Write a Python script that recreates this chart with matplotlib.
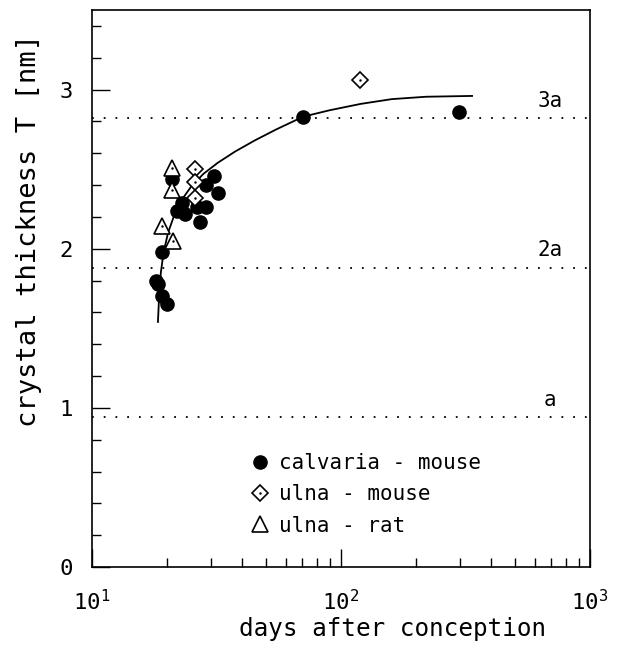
import matplotlib
matplotlib.use("Agg")
import matplotlib.pyplot as plt
from matplotlib.lines import Line2D
from matplotlib.ticker import FixedLocator, FixedFormatter, LogLocator, NullFormatter, MultipleLocator

plt.rcParams['font.family'] = ['DejaVu Sans Mono', 'DejaVu Sans']
plt.rcParams['mathtext.fontset'] = 'custom'
plt.rcParams['mathtext.rm'] = 'DejaVu Sans Mono'

# calvaria - mouse (filled circles)
calv_x = [18.07, 18.35, 19.05, 20.0, 19.05, 21.0, 22.9, 21.9, 23.6, 26.3, 28.8, 27.2, 28.6, 31.0, 32.1, 70.6, 298.0]
calv_y = [1.80, 1.78, 1.70, 1.65, 1.98, 2.44, 2.29, 2.24, 2.22, 2.26, 2.26, 2.17, 2.40, 2.46, 2.35, 2.83, 2.86]
# ulna - mouse (open diamonds)
ulm_x = [25.9, 25.9, 25.9, 119.0]
ulm_y = [2.50, 2.42, 2.32, 3.06]
# ulna - rat (open triangles)
ulr_x = [21.0, 21.0, 19.05, 21.2]
ulr_y = [2.51, 2.37, 2.14, 2.05]
# fitted curve
fit_x = [18.4, 18.6, 18.9, 19.4, 20.2, 21.5, 23.0, 25.0, 28.0, 32.0, 37.5, 45.0, 55.0, 70.6, 90.0, 120.0, 160.0, 220.0, 336.0]
fit_y = [1.54, 1.70, 1.85, 1.98, 2.10, 2.22, 2.31, 2.39, 2.47, 2.54, 2.61, 2.68, 2.75, 2.83, 2.87, 2.91, 2.94, 2.955, 2.96]
# lattice multiples
a_levels = [0.94, 1.88, 2.82]
a_labels = ['a', '2a', '3a']

fig = plt.figure(figsize=(6.36, 6.51), dpi=100)
ax = fig.add_axes([92/636, 1-567/651, (590-92)/636, (567-10)/651])

ax.set_xscale('log')
ax.set_xlim(10, 1000)
ax.set_ylim(0, 3.5)

for lv in a_levels:
    ax.axhline(lv, color='black', lw=1.3, linestyle=(0, (1, 5.5)), zorder=1)
for lv, lb in zip(a_levels, a_labels):
    ax.text(690, lv + 0.11, lb, ha='center', va='center', fontsize=15)

ax.plot(fit_x, fit_y, color='black', lw=1.3, zorder=2)
ax.plot(calv_x, calv_y, 'o', color='black', ms=9.5, zorder=3)
ax.plot(ulm_x, ulm_y, 'D', mfc='white', mec='black', mew=1.2, ms=8, zorder=4)
ax.plot(ulm_x, ulm_y, '.', color='black', ms=1.5, zorder=5)
ax.plot(ulr_x, ulr_y, '^', mfc='white', mec='black', mew=1.2, ms=11, zorder=4)
ax.plot(ulr_x, ulr_y, '.', color='black', ms=1.5, zorder=5)

h1 = Line2D([], [], marker='o', color='black', ls='', ms=9.5)
h2 = (Line2D([], [], marker='D', mfc='white', mec='black', mew=1.2, ls='', ms=8),
      Line2D([], [], marker='.', color='black', ls='', ms=1.5))
h3 = Line2D([], [], marker='^', mfc='white', mec='black', mew=1.2, ls='', ms=11)
ax.legend([h1, h2, h3], ['calvaria - mouse', 'ulna - mouse', 'ulna - rat'],
          loc='upper left', bbox_to_anchor=(0.32, 0.205), frameon=False,
          handlelength=0.8, handletextpad=0.55, labelspacing=0.55, fontsize=15,
          borderaxespad=0, borderpad=0)

ax.xaxis.set_major_locator(FixedLocator([10, 100, 1000]))
ax.xaxis.set_major_formatter(FixedFormatter([r'$\mathregular{10^{1}}$', r'$\mathregular{10^{2}}$', r'$\mathregular{10^{3}}$']))
ax.xaxis.set_minor_locator(LogLocator(base=10, subs=range(2, 10)))
ax.xaxis.set_minor_formatter(NullFormatter())
ax.yaxis.set_major_locator(MultipleLocator(1))
ax.yaxis.set_minor_locator(MultipleLocator(0.2))

ax.tick_params(which='both', direction='in', top=False, right=False, width=1.0)
ax.tick_params(which='major', length=13, labelsize=16)
ax.tick_params(which='minor', length=6.5)
ax.tick_params(axis='x', which='major', pad=16)
ax.tick_params(axis='y', which='major', pad=14)

for sp in ax.spines.values():
    sp.set_linewidth(1.2)

ax.set_xlabel('days after conception', fontsize=17.5)
ax.set_ylabel('crystal thickness T [nm]', fontsize=19.5)
ax.xaxis.set_label_coords(0.604, -0.09)
ax.yaxis.set_label_coords(-0.10, 0.605)

fig.savefig('out.png', dpi=100)
